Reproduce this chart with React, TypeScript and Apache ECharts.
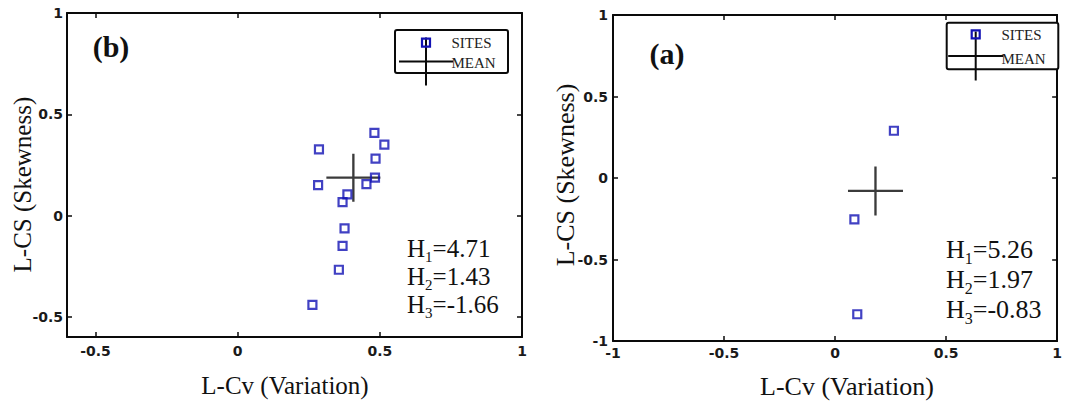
import React, { useEffect, useRef } from "react";
import * as echarts from "echarts";

// ---- Data: panel (b) ----
const sitesBX = [0.481, 0.516, 0.286, 0.485, 0.483, 0.453, 0.283, 0.386, 0.369, 0.376, 0.369, 0.356, 0.263];
const sitesBY = [0.408, 0.35, 0.327, 0.281, 0.187, 0.155, 0.15, 0.104, 0.066, -0.064, -0.15, -0.268, -0.441];
const meanB = [0.407, 0.187];
const hB = ["4.71", "1.43", "-1.66"];
const ticksBX = [-0.5, 0, 0.5, 1];
const ticksBY = [-0.5, 0, 0.5, 1];
const rangeB = [-0.6, 1];

// ---- Data: panel (a) ----
const sitesAX = [0.265, 0.087, 0.1];
const sitesAY = [0.29, -0.254, -0.836];
const meanA = [0.182, -0.079];
const hA = ["5.26", "1.97", "-0.83"];
const ticksA = [-1, -0.5, 0, 0.5, 1];
const rangeA = [-1, 1];

const BLUE = "#1212b4";
const INK = "#0a0a0a";
const SERIF = "'Liberation Serif', 'Times New Roman', serif";
const SANS = "'DejaVu Sans', sans-serif";

function axis(gridIndex: number, pos: string, range: number[], ticks: number[], showLabel: boolean, margin: number) {
  return {
    type: "value",
    gridIndex,
    position: pos,
    min: range[0],
    max: range[1],
    axisLine: { show: true, onZero: false, lineStyle: { color: INK, width: 2 } },
    axisTick: { show: true, inside: true, length: 5, customValues: ticks, lineStyle: { color: INK, width: 1.5 } },
    axisLabel: {
      show: showLabel,
      customValues: ticks,
      margin,
      color: "#1a1a1a",
      fontFamily: SANS,
      fontWeight: "bold",
      fontSize: 14,
    },
    splitLine: { show: false },
  };
}

function crossSeries(xi: number, mean: number[], size: number[]) {
  return {
    type: "scatter",
    xAxisIndex: xi,
    yAxisIndex: xi,
    silent: true,
    symbol: "path://M0 10 L20 10 M10 0 L10 20",
    symbolSize: size,
    itemStyle: { color: "rgba(0,0,0,0)", borderColor: INK, borderWidth: 2.2 },
    data: [mean],
    z: 3,
  };
}

function siteSeries(xi: number, xs: number[], ys: number[]) {
  return {
    type: "scatter",
    xAxisIndex: xi,
    yAxisIndex: xi,
    silent: true,
    symbol: "rect",
    symbolSize: 8,
    itemStyle: { color: "rgba(0,0,0,0)", borderColor: BLUE, borderWidth: 2.2 },
    data: xs.map((x, i) => [x, ys[i]]),
    z: 4,
  };
}

function legend(bx: number, by: number, bw: number, bh: number, cx: number, sqY: number, crossY: number, cw: number, ch: number, tx: number, t1y: number, t2y: number) {
  return [
    {
      type: "rect",
      shape: { x: bx, y: by, width: bw, height: bh, r: 2 },
      style: { fill: "#fff", stroke: INK, lineWidth: 2 },
      z: 10,
    },
    {
      type: "line",
      shape: { x1: cx - cw / 2, y1: crossY, x2: cx + cw / 2, y2: crossY },
      style: { stroke: INK, lineWidth: 2 },
      z: 11,
    },
    {
      type: "line",
      shape: { x1: cx, y1: crossY - ch / 2, x2: cx, y2: crossY + ch / 2 },
      style: { stroke: INK, lineWidth: 2 },
      z: 11,
    },
    {
      type: "rect",
      shape: { x: cx - 4, y: sqY - 4, width: 8, height: 8 },
      style: { fill: "rgba(0,0,0,0)", stroke: BLUE, lineWidth: 2.2 },
      z: 12,
    },
    {
      type: "text",
      x: tx,
      y: t1y,
      style: { text: "SITES", fontFamily: SERIF, fontSize: 15, fill: "#222", align: "left", verticalAlign: "middle" },
      z: 12,
    },
    {
      type: "text",
      x: tx,
      y: t2y,
      style: { text: "MEAN", fontFamily: SERIF, fontSize: 15, fill: "#222", align: "left", verticalAlign: "middle" },
      z: 12,
    },
  ];
}

function hText(x: number, y: number, vals: string[], fs: number, lh: number, sub: number, pad: number) {
  const txt = vals.map((v, i) => `{m|H}{s|${i + 1}}{m|=${v}}`).join("\n");
  return {
    type: "text",
    x,
    y,
    style: {
      text: txt,
      fill: "#111",
      align: "left",
      verticalAlign: "top",
      rich: {
        m: { fontFamily: SERIF, fontSize: fs, lineHeight: lh, fill: "#111", verticalAlign: "top" },
        s: { fontFamily: SERIF, fontSize: sub, lineHeight: lh - pad, padding: [pad, 0, 0, 0], fill: "#111", verticalAlign: "top" },
      },
    },
    z: 12,
  };
}

function label(text: string, x: number, y: number, fs: number, rot = 0, weight = "normal") {
  return {
    type: "text",
    x,
    y,
    rotation: rot,
    style: { text, fontFamily: SERIF, fontSize: fs, fontWeight: weight, fill: "#111", align: "center", verticalAlign: "middle" },
    z: 12,
  };
}

export default function App() {
  const ref = useRef<HTMLDivElement>(null);
  useEffect(() => {
    document.body.style.margin = "0";
    if (!ref.current) return;
    const chart = echarts.init(ref.current, null, { renderer: "svg" });
    chart.setOption({
      animation: false,
      backgroundColor: "#fff",
      grid: [
        { left: 67, top: 13, width: 455, height: 324 },
        { left: 613, top: 15, width: 450, height: 326 },
      ],
      xAxis: [
        axis(0, "bottom", rangeB, ticksBX, true, 7),
        axis(0, "top", rangeB, ticksBX, false, 7),
        axis(1, "bottom", rangeA, ticksA, true, 5),
        axis(1, "top", rangeA, ticksA, false, 5),
      ],
      yAxis: [
        axis(0, "left", rangeB, ticksBY, true, 4),
        axis(0, "right", rangeB, ticksBY, false, 4),
        axis(1, "left", rangeA, ticksA, true, 5),
        axis(1, "right", rangeA, ticksA, false, 5),
      ],
      series: [
        siteSeries(0, sitesBX, sitesBY),
        crossSeries(0, meanB, [54, 48]),
        siteSeries(2, sitesAX, sitesAY),
        crossSeries(2, meanA, [55, 49]),
      ],
      graphic: [
        ...legend(395, 30, 113, 43, 426, 42.7, 61.5, 54, 48, 451.5, 43.3, 63.3),
        ...legend(946.7, 22.7, 111.6, 46.6, 975.7, 34.3, 56, 55, 49, 1001.5, 35, 59.3),
        hText(407, 236, hB, 25, 28, 15, 13),
        hText(946, 236, hA, 26, 30, 16, 14),
        label("(b)", 111, 46.7, 30, 0, "bold"),
        label("(a)", 667, 53, 30, 0, "bold"),
        label("L-Cv (Variation)", 285, 385, 25),
        label("L-Cv (Variation)", 847, 386.5, 26),
        label("L-CS (Skewness)", 22, 184.6, 25, Math.PI / 2),
        label("L-CS (Skewness)", 565.6, 175, 26, Math.PI / 2),
      ],
    });
    return () => chart.dispose();
  }, []);
  return <div ref={ref} style={{ width: 1065, height: 401 }} />;
}
